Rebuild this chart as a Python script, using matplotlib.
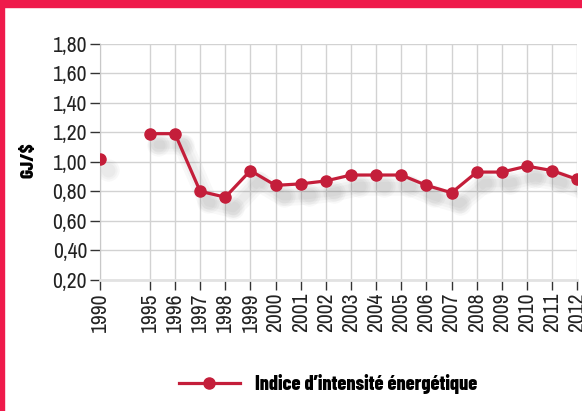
import matplotlib
matplotlib.use("Agg")
import matplotlib.pyplot as plt
import matplotlib.transforms as mtransforms
from matplotlib.patches import Rectangle

years = [1990, 1995, 1996, 1997, 1998, 1999, 2000, 2001, 2002, 2003, 2004,
         2005, 2006, 2007, 2008, 2009, 2010, 2011, 2012]
intensity = [1.02, 1.19, 1.19, 0.80, 0.76, 0.94, 0.84, 0.85, 0.87, 0.91, 0.91,
             0.91, 0.84, 0.79, 0.93, 0.93, 0.97, 0.94, 0.88]
y_ticks = [0.20, 0.40, 0.60, 0.80, 1.00, 1.20, 1.40, 1.60, 1.80]
y_label = "GJ/$"
series_label = "Indice d\u2019intensit\u00e9 \u00e9nerg\u00e9tique"

FONT = ["Archivo Narrow", "DejaVu Sans"]
BOLD = ["Barlow Condensed", "DejaVu Sans"]
plt.rcParams["font.family"] = FONT

RED = "#C41E3A"
FRAME = "#EF1A4B"
GRID = "#D2D2D2"

# 1990 sits two slots before 1995, the rest are one slot per year
xpos = [0] + [y - 1993 for y in years[1:]]

fig = plt.figure(figsize=(5.82, 4.11), dpi=100)
ax = fig.add_axes([0.171, 0.319, 0.821, 0.575])

# soft drop shadow, offset down-right
shadow = mtransforms.offset_copy(ax.transData, fig=fig, x=8, y=-11, units="dots")
for lw, ms in [(14, 16), (10, 13), (6, 10)]:
    ax.plot(xpos[1:], intensity[1:], color="#505050", lw=lw, alpha=0.04,
            solid_capstyle="round", solid_joinstyle="round",
            transform=shadow, zorder=1)
    ax.plot(xpos, intensity, ls="none", marker="o", ms=ms, color="#505050",
            alpha=0.04, mec="none", transform=shadow, zorder=1)

ax.plot(xpos[1:], intensity[1:], color=RED, lw=2.3, zorder=3)
ax.plot(xpos, intensity, ls="none", marker="o", ms=8, color=RED, zorder=4)

ax.set_xlim(0, 19)
ax.set_ylim(0.20, 1.80)
ax.set_xticks(xpos)
ax.set_xticklabels([str(y) for y in years], rotation=90, fontsize=15.5,
                   color="#222222")
ax.set_yticks(y_ticks)
ax.set_yticklabels([f"{v:.2f}".replace(".", ",") for v in y_ticks],
                   fontsize=15.5, color="#222222")
ax.tick_params(axis="both", direction="out", length=7, width=1,
               color="#333333", pad=2)

ax.grid(True, color=GRID, lw=1)
ax.set_axisbelow(True)
for s in ["top", "right"]:
    ax.spines[s].set_visible(False)
ax.spines["left"].set_color("#C8C8C8")
ax.spines["bottom"].set_color("#E2E2E2")
ax.spines["bottom"].set_linewidth(2)

ax.set_ylabel(y_label, fontsize=14, fontweight="heavy", family=BOLD)
ax.yaxis.set_label_coords(-0.131, 0.508)

handle, = ax.plot([], [], color=RED, lw=2.3, marker="o", ms=8)
fig.legend([handle], [series_label], loc="center",
           bbox_to_anchor=(0.5636, 1 - 384 / 411), frameon=False,
           handlelength=3.0, handletextpad=0.75,
           prop={"family": BOLD, "weight": "heavy", "size": 14.5})

# red frame: top band and left edge
fig.patches.append(Rectangle((0, 1 - 6.7 / 411), 1, 6.7 / 411,
                             transform=fig.transFigure, color=FRAME, zorder=0))
fig.patches.append(Rectangle((0, 0), 3.5 / 582, 1,
                             transform=fig.transFigure, color=FRAME, zorder=0))

fig.savefig("out.png", dpi=100)
